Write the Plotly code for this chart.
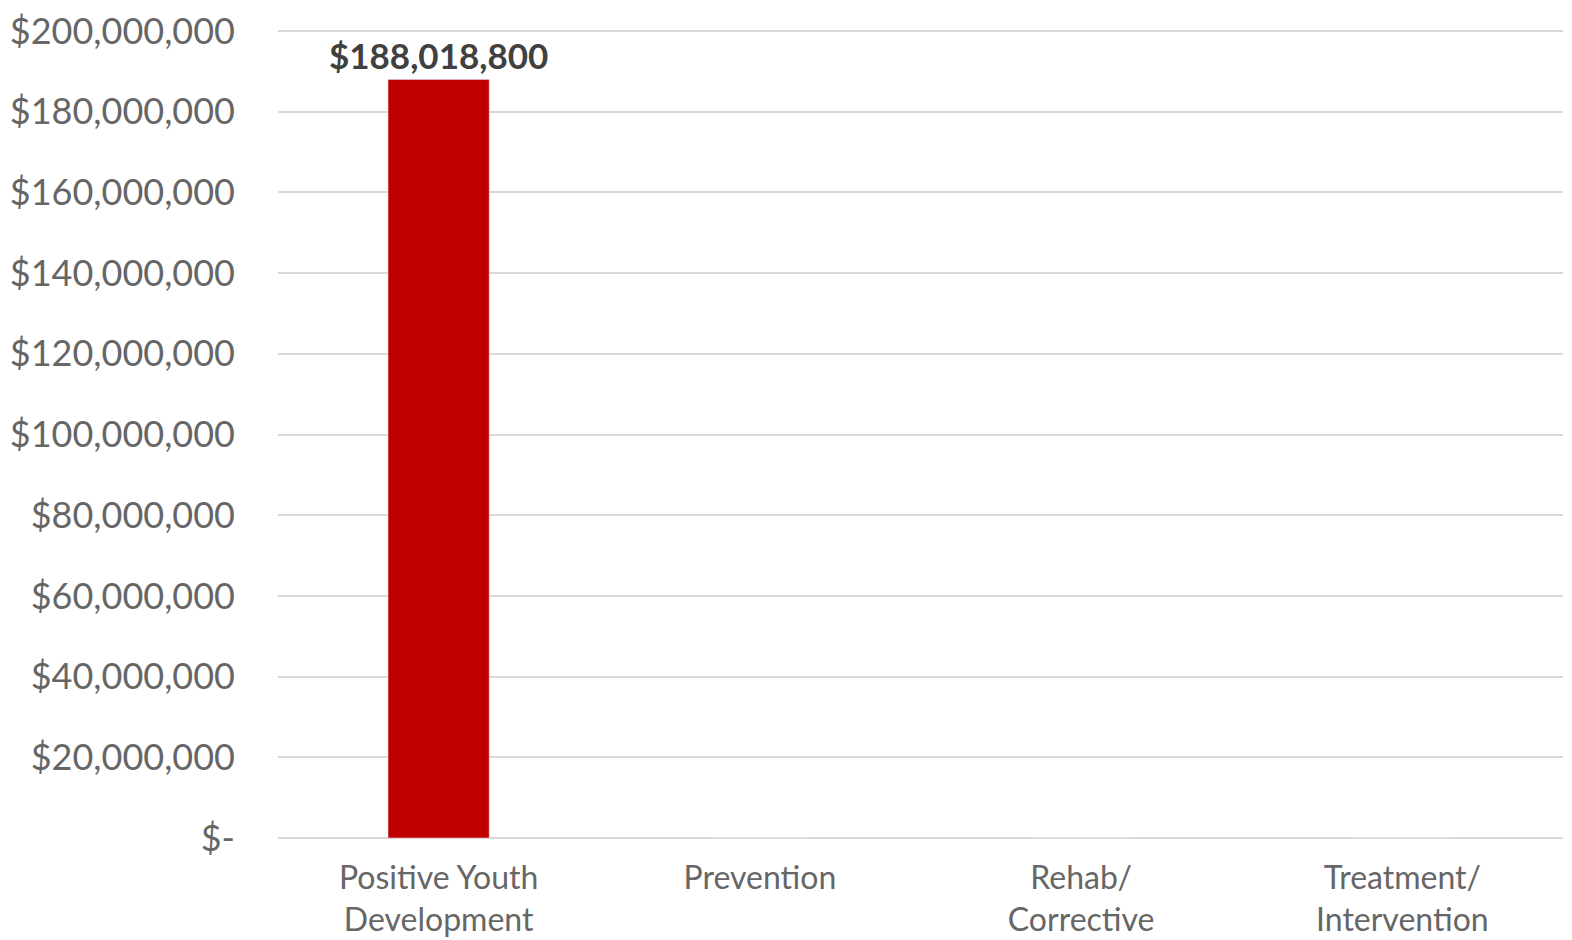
import plotly.graph_objects as go

categories = ["Positive Youth<br>Development", "Prevention", "Rehab/<br>Corrective", "Treatment/<br>Intervention"]
values = [188018800, 0, 0, 0]
tick_vals = [0, 20e6, 40e6, 60e6, 80e6, 100e6, 120e6, 140e6, 160e6, 180e6, 200e6]
tick_text = ["$-", "$20,000,000", "$40,000,000", "$60,000,000", "$80,000,000", "$100,000,000",
             "$120,000,000", "$140,000,000", "$160,000,000", "$180,000,000", "$200,000,000"]

labels = ["${:,.0f}".format(v) if v > 0 else "" for v in values]

fig = go.Figure(go.Bar(
    x=categories, y=values, marker_color="#C00000", width=0.315,
    text=labels, textposition="outside", cliponaxis=False, constraintext="none",
    textfont=dict(family="Lato", size=35, color="#404040", weight="bold"),
))

fig.update_layout(
    width=1572, height=940, plot_bgcolor="white", paper_bgcolor="white",
    margin=dict(l=278, r=9, t=27, b=102),
    font=dict(family="Lato", color="#666666"),
    showlegend=False,
)
fig.update_yaxes(range=[0, 201e6], tickvals=tick_vals, ticktext=tick_text, automargin=False,
                 gridcolor="#D9D9D9", gridwidth=2, zeroline=True, zerolinecolor="#D9D9D9",
                 zerolinewidth=2, tickfont=dict(size=36, color="#666666"), ticklabelstandoff=42,
                 showline=False)
fig.update_xaxes(tickfont=dict(size=32, color="#666666"), showline=False, ticklabelstandoff=18,
                 automargin=False)

fig.write_html("out.html", config={"displayModeBar": False},
               post_script="document.body.style.margin='0px';")
